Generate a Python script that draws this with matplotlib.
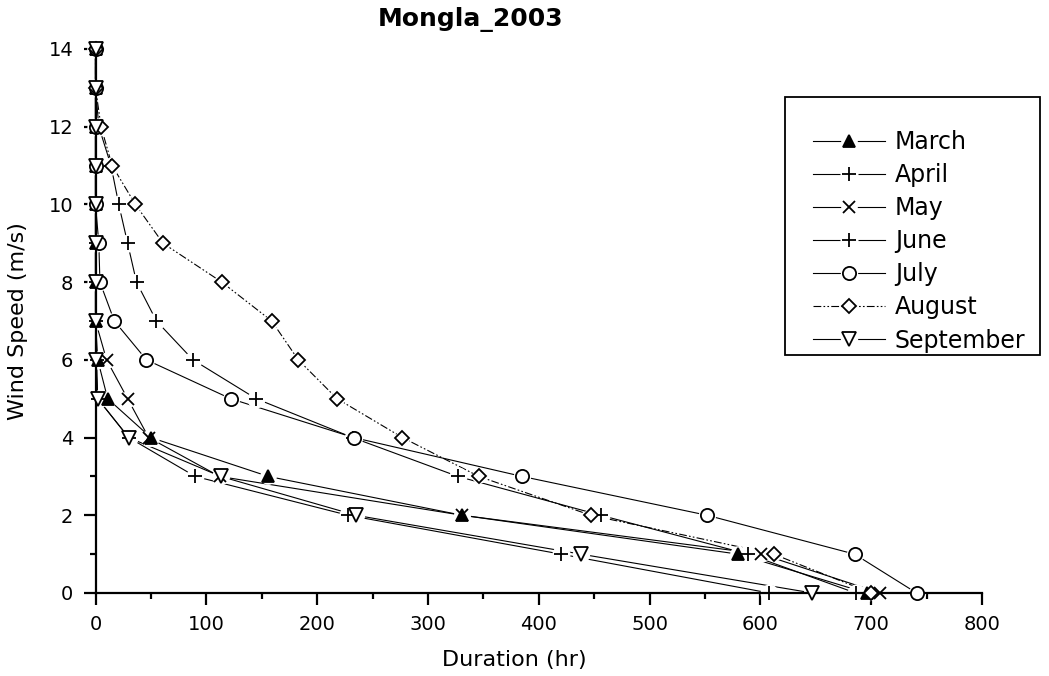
import numpy as np
import matplotlib.pyplot as plt
from matplotlib.lines import Line2D
from matplotlib.patches import Rectangle
from matplotlib.ticker import MultipleLocator

# wind speed classes (m/s) and cumulative duration (hr) per month
speed = [14, 13, 12, 11, 10, 9, 8, 7, 6, 5, 4, 3, 2, 1, 0]

march = [0, 0, 0, 0, 0, 0, 0, 0, 2, 11, 50, 156, 331, 580, 696]
april = [0, 0, 0, 0, 0, 0, 0, 0, 1, 2, 30, 90, 228, 420, 608]
may = [0, 0, 0, 0, 0, 0, 0, 0, 10, 29, 48, 112, 331, 601, 708]
june = [0, 0, 3, 14, 21, 29, 37, 55, 88, 145, 232, 327, 456, 589, 686]
july = [0, 0, 0, 0, 0, 3, 4, 17, 46, 122, 233, 385, 552, 685, 741]
august = [0, 0, 5, 15, 36, 61, 114, 159, 183, 218, 277, 346, 447, 612, 700]
september = [0, 0, 0, 0, 0, 0, 0, 0, 0, 2, 30, 113, 235, 438, 647]

months = ["March", "April", "May", "June", "July", "August", "September"]
durations = [march, april, may, june, july, august, september]

# marker, marker size, face colour, line style
styles = [
    ("^", 9, "black", "-"),
    ("+", 10, "none", "-"),
    ("x", 9, "none", "-"),
    ("+", 10, "none", "-"),
    ("o", 9.5, "white", "-"),
    ("D", 7.5, "white", (0, (7, 2, 1.5, 2, 1.5, 2))),
    ("v", 9.5, "white", "-"),
]

fig = plt.figure(figsize=(10.49, 6.76), dpi=100)
ax = fig.add_axes([95.5 / 1049, 83 / 676, 886.5 / 1049, 544 / 676])

handles = []
for i, (name, dur) in enumerate(zip(months, durations)):
    mk, ms, fc, ls = styles[i]
    line, = ax.plot(dur, speed, color="black", lw=0.8, ls=ls, zorder=3,
                    clip_on=False)
    # white disc behind each marker leaves a small gap in the lines
    halo, = ax.plot(dur, speed, ls="none", marker="o", ms=ms + 3,
                    mfc="white", mec="none", zorder=4, clip_on=False)
    mark, = ax.plot(dur, speed, ls="none", marker=mk, ms=ms, mfc=fc,
                    mec="black", mew=1.3, zorder=5 + i, clip_on=False)
    handles.append((line, halo, mark))

ax.set_xlim(0, 800)
ax.set_ylim(0, 14)
ax.xaxis.set_major_locator(MultipleLocator(100))
ax.xaxis.set_minor_locator(MultipleLocator(50))
ax.yaxis.set_major_locator(MultipleLocator(2))
ax.yaxis.set_minor_locator(MultipleLocator(1))

for side in ["top", "right"]:
    ax.spines[side].set_visible(False)
for side in ["left", "bottom"]:
    ax.spines[side].set_linewidth(1.6)
    ax.spines[side].set_zorder(4.5)

ax.tick_params(which="major", direction="out", length=8.5, width=1.6,
               labelsize=14, pad=7.5)
ax.tick_params(which="minor", direction="out", length=4.5, width=1.6)

fig.text(514 / 1049, 1 - 660 / 676, "Duration (hr)", fontsize=16,
         ha="center", va="center")
fig.text(18 / 1049, 1 - 321 / 676, "Wind Speed (m/s)", fontsize=16,
         ha="center", va="center", rotation=90)
fig.text(471 / 1049, 1 - 20 / 676, "Mongla_2003", fontsize=18,
         fontweight="bold", ha="center", va="center")

# legend box drawn separately, entries placed inside it
fig.patches.append(Rectangle((785 / 1049, 1 - 355 / 676), 255 / 1049,
                             258 / 676, transform=fig.transFigure,
                             fill=False, lw=1.3, ec="black"))
fig.legend(handles, months, loc="upper left",
           bbox_to_anchor=(813 / 1049, 1 - 130 / 676), frameon=False,
           fontsize=17, handlelength=3.05, handletextpad=0.42,
           labelspacing=0.385, borderpad=0, borderaxespad=0)

fig.savefig("out.png", dpi=100)
